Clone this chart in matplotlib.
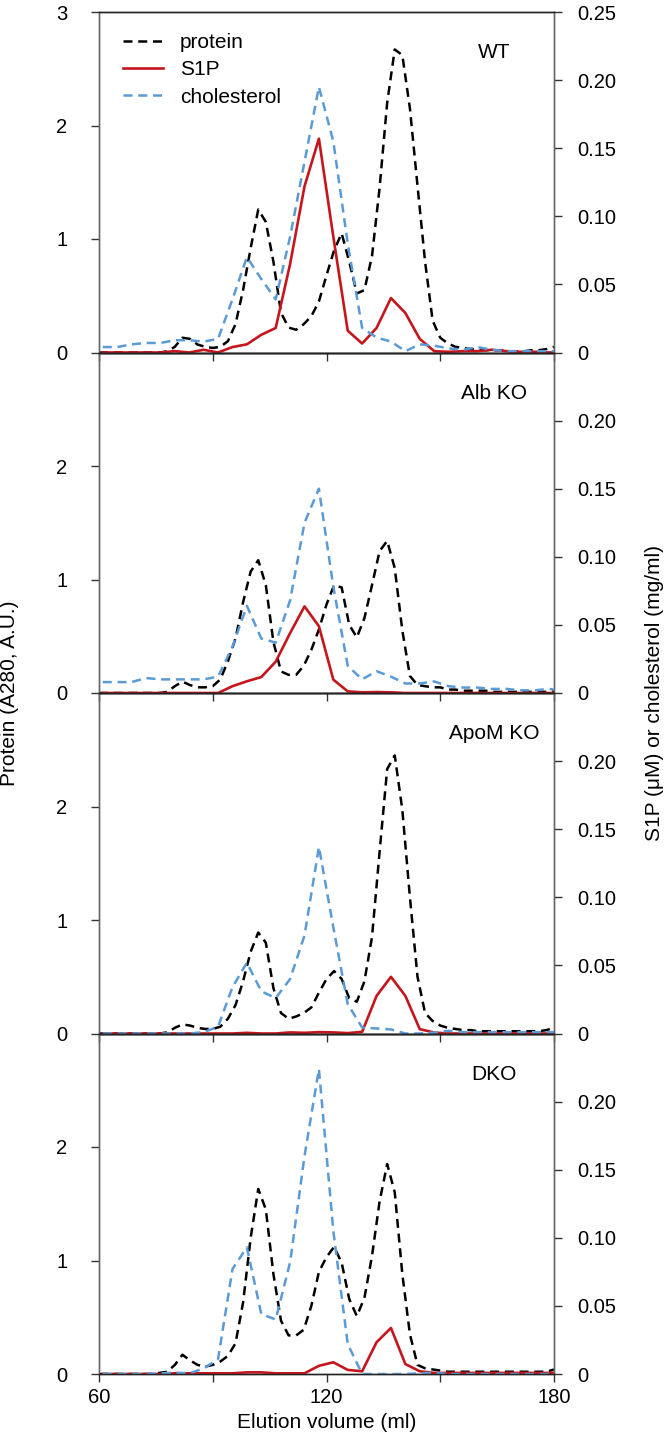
import numpy as np
import matplotlib
matplotlib.use('Agg')
import matplotlib.pyplot as plt

plt.rcParams['font.family'] = ['Liberation Sans', 'DejaVu Sans']

# protein trace (A280), read every 2 ml
vol_prot = np.arange(60, 181, 2)
# S1P / cholesterol fractions
vol_frac = np.array([61.0, 64.8, 68.6, 72.4, 76.2, 80.0, 83.8, 87.6, 91.4, 95.2,
                     99.0, 102.8, 106.6, 110.4, 114.2, 118.0, 121.8, 125.6, 129.4, 133.2,
                     137.0, 140.8, 144.6, 148.4, 152.2, 156.0, 159.8, 163.6, 167.4, 171.2,
                     175.0, 178.8, 182.6])

panels = ['WT', 'Alb KO', 'ApoM KO', 'DKO']

prot_wt = [0.00, 0.00, 0.00, 0.00, 0.00, 0.00, 0.00, 0.00, 0.00, 0.01,
           0.05, 0.13, 0.12, 0.07, 0.05, 0.04, 0.05, 0.10, 0.25, 0.55,
           0.92, 1.26, 1.15, 0.80, 0.35, 0.22, 0.20, 0.25, 0.32, 0.45,
           0.68, 0.90, 1.05, 0.80, 0.52, 0.55, 0.85, 1.45, 2.20, 2.67,
           2.62, 2.15, 1.47, 0.80, 0.28, 0.13, 0.08, 0.05, 0.04, 0.03,
           0.03, 0.02, 0.02, 0.02, 0.01, 0.01, 0.01, 0.02, 0.02, 0.03, 0.05]
prot_alb = [0.00, 0.00, 0.00, 0.00, 0.00, 0.00, 0.00, 0.00, 0.00, 0.01,
            0.06, 0.10, 0.07, 0.05, 0.05, 0.06, 0.12, 0.28, 0.48, 0.80,
            1.07, 1.17, 0.95, 0.45, 0.19, 0.16, 0.16, 0.24, 0.38, 0.56,
            0.78, 0.95, 0.93, 0.60, 0.49, 0.66, 0.95, 1.25, 1.34, 1.10,
            0.55, 0.15, 0.07, 0.06, 0.05, 0.05, 0.03, 0.03, 0.02, 0.02,
            0.02, 0.02, 0.01, 0.01, 0.01, 0.01, 0.01, 0.01, 0.01, 0.01, 0.02]
prot_apom = [0.00, 0.00, 0.00, 0.00, 0.00, 0.00, 0.00, 0.00, 0.00, 0.01,
             0.05, 0.08, 0.07, 0.05, 0.04, 0.04, 0.06, 0.13, 0.25, 0.46,
             0.72, 0.89, 0.80, 0.40, 0.18, 0.13, 0.15, 0.18, 0.23, 0.36,
             0.48, 0.55, 0.48, 0.31, 0.28, 0.46, 0.85, 1.60, 2.33, 2.45,
             1.97, 1.20, 0.50, 0.18, 0.11, 0.07, 0.05, 0.04, 0.03, 0.03,
             0.02, 0.02, 0.02, 0.02, 0.02, 0.02, 0.02, 0.02, 0.02, 0.03, 0.05]
prot_dko = [0.00, 0.00, 0.00, 0.00, 0.00, 0.00, 0.00, 0.00, 0.01, 0.02,
            0.08, 0.17, 0.12, 0.08, 0.065, 0.08, 0.11, 0.16, 0.27, 0.63,
            1.20, 1.63, 1.45, 0.88, 0.47, 0.34, 0.34, 0.39, 0.60, 0.90,
            1.03, 1.12, 0.98, 0.66, 0.51, 0.67, 1.04, 1.52, 1.85, 1.60,
            0.88, 0.35, 0.08, 0.05, 0.04, 0.03, 0.02, 0.02, 0.02, 0.02,
            0.02, 0.02, 0.02, 0.02, 0.02, 0.02, 0.02, 0.02, 0.02, 0.02, 0.04]

s1p_wt = [0, 0, 0, 0, 0, 0.001, 0, 0.002, 0, 0.004,
          0.006, 0.013, 0.018, 0.065, 0.122, 0.157, 0.085, 0.016, 0.0066, 0.018,
          0.040, 0.029, 0.010, 0.001, 0.0005, 0.001, 0.001, 0.002, 0.001, 0.0005,
          0.0005, 0, 0]
s1p_alb = [0, 0, 0, 0, 0, 0, 0, 0, 0, 0.005,
           0.0086, 0.0117, 0.023, 0.044, 0.0636, 0.049, 0.0098, 0.0012, 0.0005, 0.0007,
           0.0005, 0, 0, 0, 0, 0, 0, 0, 0, 0,
           0, 0, 0]
s1p_apom = [0, 0, 0, 0, 0, 0, 0, 0, 0, 0,
            0.0005, 0, 0, 0.0008, 0.0005, 0.001, 0.0008, 0.0003, 0.0012, 0.0276,
            0.0416, 0.0276, 0.0032, 0.0007, 0, 0, 0, 0, 0, 0,
            0, 0, 0]
s1p_dko = [0, 0, 0, 0, 0, 0.0005, 0.0005, 0.0005, 0.0005, 0.0005,
           0.0012, 0.0012, 0.0005, 0.0005, 0.0005, 0.006, 0.0086, 0.003, 0.002, 0.0233,
           0.0338, 0.0073, 0.002, 0.0008, 0.0008, 0.0008, 0.0008, 0.0008, 0.0008, 0.0008,
           0.0008, 0.0008, 0.001]

chol_wt = [0.004, 0.004, 0.006, 0.007, 0.007, 0.009, 0.009, 0.008, 0.010, 0.039,
           0.070, 0.054, 0.039, 0.085, 0.140, 0.195, 0.155, 0.080, 0.018, 0.011,
           0.008, 0.001, 0.006, 0.005, 0.003, 0.002, 0.004, 0.002, 0.001, 0.001,
           0.001, 0.001, 0.001]
chol_alb = [0.008, 0.008, 0.008, 0.011, 0.010, 0.010, 0.010, 0.010, 0.012, 0.034,
            0.064, 0.040, 0.037, 0.068, 0.125, 0.150, 0.078, 0.020, 0.010, 0.016,
            0.012, 0.007, 0.007, 0.0085, 0.005, 0.004, 0.004, 0.003, 0.003, 0.002,
            0.002, 0.003, 0.001]
chol_apom = [0, 0, 0, 0, 0, 0, 0, 0.001, 0.005, 0.034,
             0.052, 0.031, 0.026, 0.040, 0.072, 0.137, 0.078, 0.0215, 0.0044, 0.0037,
             0.003, 0, 0, 0.0007, 0.002, 0.001, 0.001, 0.001, 0.001, 0.001,
             0.001, 0.001, 0.001]
chol_dko = [0, 0, 0, 0, 0.0005, 0.001, 0.0005, 0.004, 0.011, 0.077,
            0.093, 0.044, 0.040, 0.082, 0.160, 0.224, 0.105, 0.022, 0, 0,
            0, 0, 0.0005, 0.001, 0, 0, 0, 0, 0, 0,
            0, 0, 0]

protein = [prot_wt, prot_alb, prot_apom, prot_dko]
s1p = [s1p_wt, s1p_alb, s1p_apom, s1p_dko]
chol = [chol_wt, chol_alb, chol_apom, chol_dko]

RED = '#c4161c'
BLUE = '#5b9bd5'
GREY = '#666666'
W, H = 667.0, 1439.0
PH = 340.5

fig = plt.figure(figsize=(6.67, 14.39), dpi=100)

for i, name in enumerate(panels):
    top = 12 + PH * i
    ax = fig.add_axes([99 / W, 1 - (top + PH) / H, 455 / W, PH / H])
    ax.set_facecolor('none')
    ax2 = ax.twinx()

    l1, = ax.plot(vol_prot, protein[i], color='k', lw=1.8, dashes=(3.6, 2.3),
                  dash_joinstyle='round', label='protein')
    l2, = ax2.plot(vol_frac, s1p[i], color=RED, lw=1.9, label='S1P')
    l3, = ax2.plot(vol_frac, chol[i], color=BLUE, lw=1.8, dashes=(3.6, 2.3),
                   label='cholesterol')

    ax.set_xlim(60, 180)
    ax.set_ylim(0, 3)
    ax2.set_ylim(0, 0.25)

    ax.set_xticks([60, 90, 120, 150, 180])
    if i == 3:
        ax.set_xticklabels(['60', '', '120', '', '180'])
    else:
        ax.tick_params(axis='x', labelbottom=False)
    ax.tick_params(axis='x', direction='out', length=5.8, width=1, color='#333333',
                   labelsize=14.5, pad=4)

    if i == 0:
        ax.set_yticks([0, 1, 2, 3])
        rt = [0, 0.05, 0.10, 0.15, 0.20, 0.25]
    else:
        ax.set_yticks([0, 1, 2])
        rt = [0, 0.05, 0.10, 0.15, 0.20]
    ax.set_yticklabels([str(t) for t in ax.get_yticks().astype(int)])
    ax2.set_yticks(rt)
    ax2.set_yticklabels(['0'] + ['%.2f' % t for t in rt[1:]])
    ax.tick_params(axis='y', direction='out', length=5.8, width=1, color='#333333',
                   labelsize=14.5, pad=17)
    ax2.tick_params(axis='y', direction='out', length=5.8, width=1, color='#333333',
                    labelsize=14.5, pad=11)

    for a in (ax, ax2):
        a.spines['left'].set_color(GREY)
        a.spines['right'].set_color(GREY)
        a.spines['top'].set_color('#222222')
        a.spines['bottom'].set_color('#222222')
        for s in a.spines.values():
            s.set_linewidth(1.0)

    ax.text(0.868, 0.88, name, transform=ax.transAxes, ha='center', va='center',
            fontsize=15)

    if i == 0:
        ax2.legend(handles=[l1, l2, l3], loc='upper left',
                   bbox_to_anchor=(24 / 455, 1 - 21 / PH), borderaxespad=0,
                   borderpad=0, frameon=False, fontsize=15, handlelength=1.92,
                   handletextpad=0.82, labelspacing=0.4)

fig.text(10 / W, 1 - 693 / H, 'Protein (A280, A.U.)', rotation=90,
         ha='center', va='center', fontsize=15)
fig.text(655 / W, 1 - 693 / H, 'S1P (\u03bcM) or cholesterol (mg/ml)', rotation=90,
         ha='center', va='center', fontsize=15)
fig.text(326.5 / W, 1 - 1422 / H, 'Elution volume (ml)', ha='center', va='center',
         fontsize=15)

fig.savefig('out.png', dpi=100, facecolor='white')
